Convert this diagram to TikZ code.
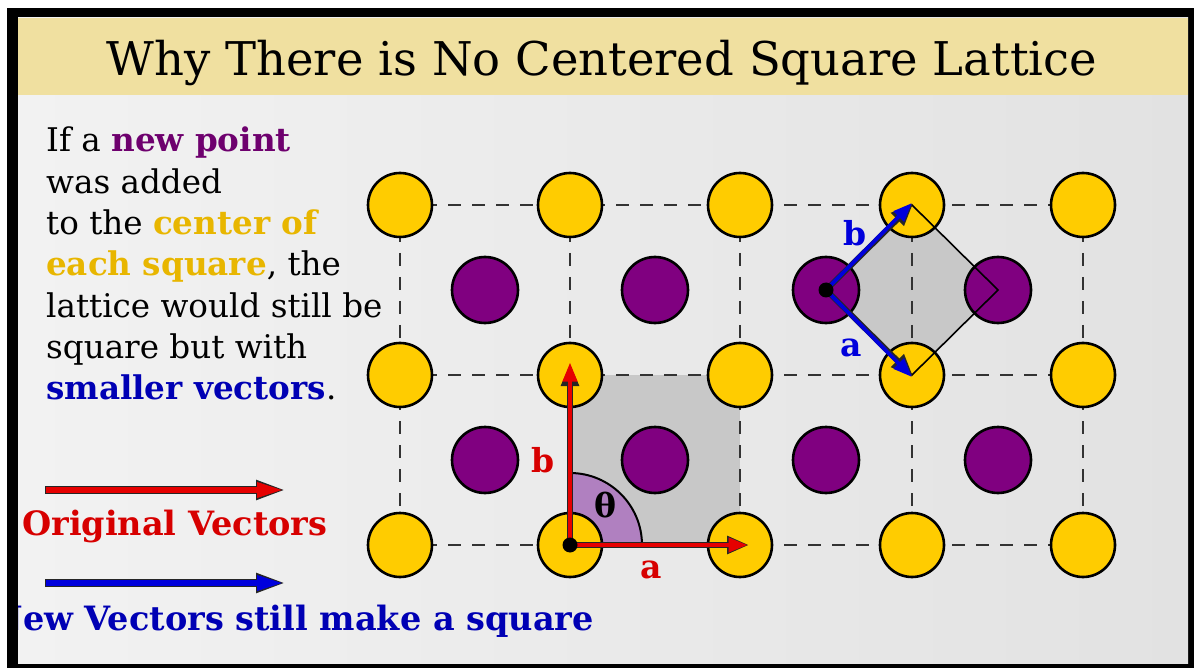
\documentclass[tikz,border=0pt]{standalone}
\usepackage{fontspec}
\setmainfont{DejaVu Serif}
\usetikzlibrary{arrows.meta}
\definecolor{gold}{RGB}{255,204,0}
\definecolor{goldtxt}{RGB}{232,182,0}
\definecolor{purp}{RGB}{128,0,128}
\definecolor{purptxt}{RGB}{110,0,110}
\definecolor{sqgray}{RGB}{200,200,200}
\definecolor{sector}{RGB}{176,128,192}
\definecolor{vred}{RGB}{230,0,0}
\definecolor{tred}{RGB}{215,0,0}
\definecolor{vblue}{RGB}{0,0,220}
\definecolor{tblue}{RGB}{0,0,180}
\definecolor{titlebg}{RGB}{240,224,160}
\definecolor{bgl}{RGB}{242,242,242}
\definecolor{bgr}{RGB}{226,226,226}
\tikzset{
  ycirc/.style={circle,draw=black,line width=2.6pt,fill=gold,minimum size=64pt,inner sep=0pt},
  pcirc/.style={circle,draw=black,line width=2.6pt,fill=purp,minimum size=66pt,inner sep=0pt},
  gridline/.style={draw=black!80,line width=1.8pt,dash pattern=on 13pt off 11pt},
  vecout/.style={draw=black!85,line width=5.6pt,-{Triangle[length=22pt,width=17pt]}},
  redvec/.style={draw=vred,line width=3.8pt,-{Triangle[length=19pt,width=14pt]}},
  bluevec/.style={draw=vblue,line width=3.8pt,-{Triangle[length=19pt,width=14pt]}},
  legout/.style={draw=black!85,line width=8.4pt,-{Triangle[length=30pt,width=18pt]}},
  legred/.style={draw=vred,line width=6pt,-{Triangle[length=27pt,width=14pt]}},
  legblue/.style={draw=vblue,line width=6pt,-{Triangle[length=27pt,width=14pt]}},
  dot/.style={circle,fill=black,minimum size=15pt,inner sep=0pt},
  vlabel/.style={font=\fontsize{33}{36}\selectfont\bfseries,inner sep=0pt},
}
\begin{document}
\begin{tikzpicture}[x=1pt,y=-1pt]
\useasboundingbox (0,0) rectangle (1194,668);
\fill[white] (0,0) rectangle (1194,668);
\fill[black] (7,8) rectangle (1194,668);
\shade[left color=bgl,right color=bgr] (18,18) rectangle (1188,663);
\fill[titlebg] (18,18) rectangle (1188,95);
\node[anchor=base,inner sep=0pt,font=\fontsize{46.5}{50}\selectfont] (title) at (602,76) {Why There is No Centered Square Lattice};

% lattice coordinates
\foreach \i/\x in {0/400,1/570,2/740,3/912,4/1083}{
  \foreach \j/\y in {0/205,1/375,2/545}{
    \coordinate (p-\i-\j) at (\x,\y);
  }
}
\foreach \i/\x in {0/485,1/655,2/826,3/998}{
  \foreach \j/\y in {0/290,1/460}{
    \coordinate (c-\i-\j) at (\x,\y);
  }
}
% shaded cells
\fill[sqgray] (p-1-1) rectangle (p-2-2);
\fill[sector,draw=black,line width=2pt] (p-1-2) -- ++(72,0) arc[start angle=0,end angle=90,radius=72pt] -- cycle;
\fill[sqgray] (c-2-0) -- (p-3-0) -- (c-3-0) -- (p-3-1) -- cycle;
% dashed grid
\foreach \j in {0,1,2}{ \draw[gridline] (p-0-\j) -- (p-4-\j); }
\foreach \i in {0,...,4}{ \draw[gridline] (p-\i-0) -- (p-\i-2); }
% atoms
\foreach \i in {0,...,4}{ \foreach \j in {0,1,2}{ \node[ycirc] (Y-\i-\j) at (p-\i-\j) {}; } }
\foreach \i in {0,...,3}{ \foreach \j in {0,1}{ \node[pcirc] (P-\i-\j) at (c-\i-\j) {}; } }
% new cell outline
\draw[black,line width=1.6pt] (c-2-0) -- (p-3-0) -- (c-3-0) -- (p-3-1) -- cycle;
% original vectors
\coordinate (atip) at (749,545);
\coordinate (btip) at (570,364);
\draw[vecout] (p-1-2) -- (atip);
\draw[vecout] (p-1-2) -- (btip);
\draw[redvec] (p-1-2) -- ([xshift=-1.5pt]atip);
\draw[redvec] (p-1-2) -- ([yshift=1.5pt]btip);
\node[dot] (o1) at (p-1-2) {};
\node[vlabel,text=tred] (la) at (651,570) {a};
\node[vlabel,text=tred] (lb) at (543,460) {b};
\node[vlabel,text=black] (lth) at (605,505) {θ};
% new vectors
\coordinate (nbt) at (913,204);
\coordinate (nat) at (913,376);
\draw[vecout] (c-2-0) -- (nbt);
\draw[vecout] (c-2-0) -- (nat);
\draw[bluevec] (c-2-0) -- ([shift={(-1pt,1pt)}]nbt);
\draw[bluevec] (c-2-0) -- ([shift={(-1pt,-1pt)}]nat);
\node[dot] (o2) at (c-2-0) {};
\node[vlabel,text=vblue] (na) at (851,348) {a};
\node[vlabel,text=vblue] (nb) at (855,233) {b};

% description
\node[anchor=north west,align=left,inner sep=0pt,font=\fontsize{32.6}{41.3}\selectfont] (desc) at (46,127)
 {If a \textbf{\color{purptxt}new point}\\
  was added\\
  to the \textbf{\color{goldtxt}center of}\\
  \textbf{\color{goldtxt}each square}, the\\
  lattice would still be\\
  square but with\\
  \textbf{\color{tblue}smaller vectors}.};

% legend
\coordinate (l1s) at (45,490); \coordinate (l1e) at (286,490);
\coordinate (l2s) at (45,583); \coordinate (l2e) at (286,583);
\draw[legout] (l1s) -- (l1e);
\draw[legred] ([xshift=1.2pt]l1s) -- ([xshift=-2pt]l1e);
\draw[legout] (l2s) -- (l2e);
\draw[legblue] ([xshift=1.2pt]l2s) -- ([xshift=-2pt]l2e);
\node[anchor=base west,inner sep=0pt,font=\fontsize{33.5}{36}\selectfont\bfseries,text=tred] (orig) at (22,535) {Original Vectors};
\node[anchor=base east,inner sep=0pt,font=\fontsize{33.5}{36}\selectfont\bfseries,text=tblue] (newv) at (594,630) {New Vectors still make a square};
% frame on top (left edge hides part of text)
\fill[black] (7,8) rectangle (18,668);
\fill[white] (0,0) rectangle (7,668);
\end{tikzpicture}
\end{document}
